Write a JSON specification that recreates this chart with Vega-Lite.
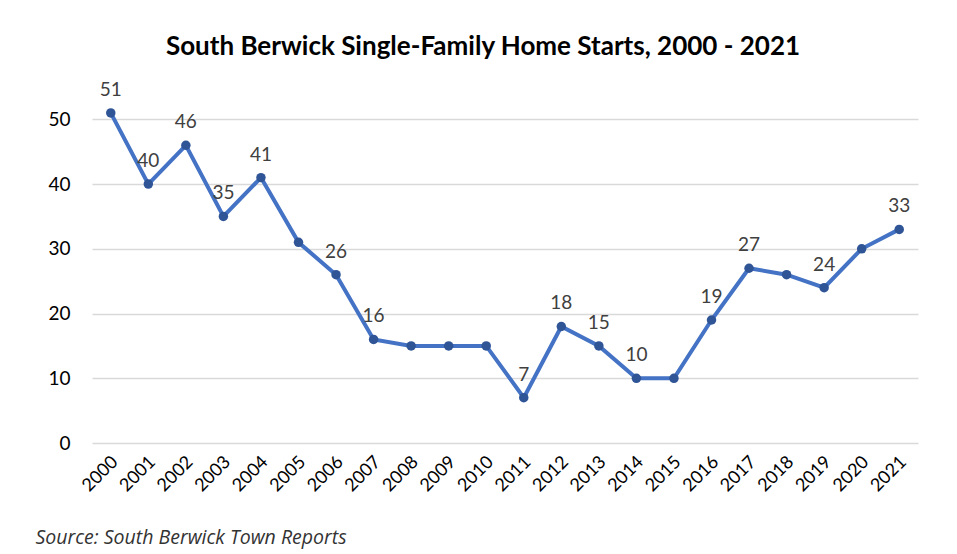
{
  "$schema": "https://vega.github.io/schema/vega-lite/v6.json",
  "width": 826,
  "height": 356,
  "autosize": {"type": "none"},
  "padding": {"left": 92, "top": 87, "right": 39, "bottom": 111},
  "background": "white",
  "title": {
    "text": "South Berwick Single-Family Home Starts, 2000 - 2021",
    "font": "Lato",
    "fontSize": 26,
    "fontWeight": "bold",
    "color": "#000000",
    "anchor": "middle",
    "dx": -22,
    "offset": 21
  },
  "data": {
    "values": [
      {"year": "2000", "starts": 51, "label": "51"},
      {"year": "2001", "starts": 40, "label": "40"},
      {"year": "2002", "starts": 46, "label": "46"},
      {"year": "2003", "starts": 35, "label": "35"},
      {"year": "2004", "starts": 41, "label": "41"},
      {"year": "2005", "starts": 31, "label": null},
      {"year": "2006", "starts": 26, "label": "26"},
      {"year": "2007", "starts": 16, "label": "16"},
      {"year": "2008", "starts": 15, "label": null},
      {"year": "2009", "starts": 15, "label": null},
      {"year": "2010", "starts": 15, "label": null},
      {"year": "2011", "starts": 7, "label": "7"},
      {"year": "2012", "starts": 18, "label": "18"},
      {"year": "2013", "starts": 15, "label": "15"},
      {"year": "2014", "starts": 10, "label": "10"},
      {"year": "2015", "starts": 10, "label": null},
      {"year": "2016", "starts": 19, "label": "19"},
      {"year": "2017", "starts": 27, "label": "27"},
      {"year": "2018", "starts": 26, "label": null},
      {"year": "2019", "starts": 24, "label": "24"},
      {"year": "2020", "starts": 30, "label": null},
      {"year": "2021", "starts": 33, "label": "33"}
    ]
  },
  "encoding": {
    "x": {
      "field": "year",
      "type": "ordinal",
      "scale": {"type": "point", "padding": 0.5},
      "axis": {
        "title": "Source: South Berwick Town Reports",
        "titleFont": "Open Sans",
        "titleFontStyle": "italic",
        "titleFontWeight": "normal",
        "titleFontSize": 19.5,
        "titleColor": "#333333",
        "titleAnchor": "start",
        "titleAlign": "left",
        "titleBaseline": "alphabetic",
        "titleX": -57,
        "titleY": 100,
        "labelAngle": -45,
        "labelAlign": "right",
        "labelBaseline": "middle",
        "labelFont": "Lato",
        "labelFontSize": 18,
        "labelColor": "#000000",
        "labelPadding": 16,
        "labelOffset": 4,
        "domain": false,
        "ticks": false,
        "grid": false
      }
    },
    "y": {
      "field": "starts",
      "type": "quantitative",
      "scale": {"domain": [0, 55], "nice": false},
      "axis": {
        "title": null,
        "values": [0, 10, 20, 30, 40, 50],
        "labelFont": "Lato",
        "labelFontSize": 19,
        "labelColor": "#000000",
        "labelPadding": 22,
        "domain": false,
        "ticks": false,
        "grid": true,
        "gridColor": "#d9d9d9",
        "gridWidth": 1.5
      }
    }
  },
  "layer": [
    {
      "mark": {"type": "line", "color": "#4472C4", "strokeWidth": 4}
    },
    {
      "mark": {"type": "point", "filled": true, "color": "#2F5597", "size": 90, "opacity": 1}
    },
    {
      "transform": [{"filter": "datum.label != null"}],
      "mark": {"type": "text", "dy": -23, "font": "Lato", "fontSize": 19, "color": "#404040"},
      "encoding": {"text": {"field": "label"}}
    }
  ],
  "config": {"view": {"stroke": null}}
}
